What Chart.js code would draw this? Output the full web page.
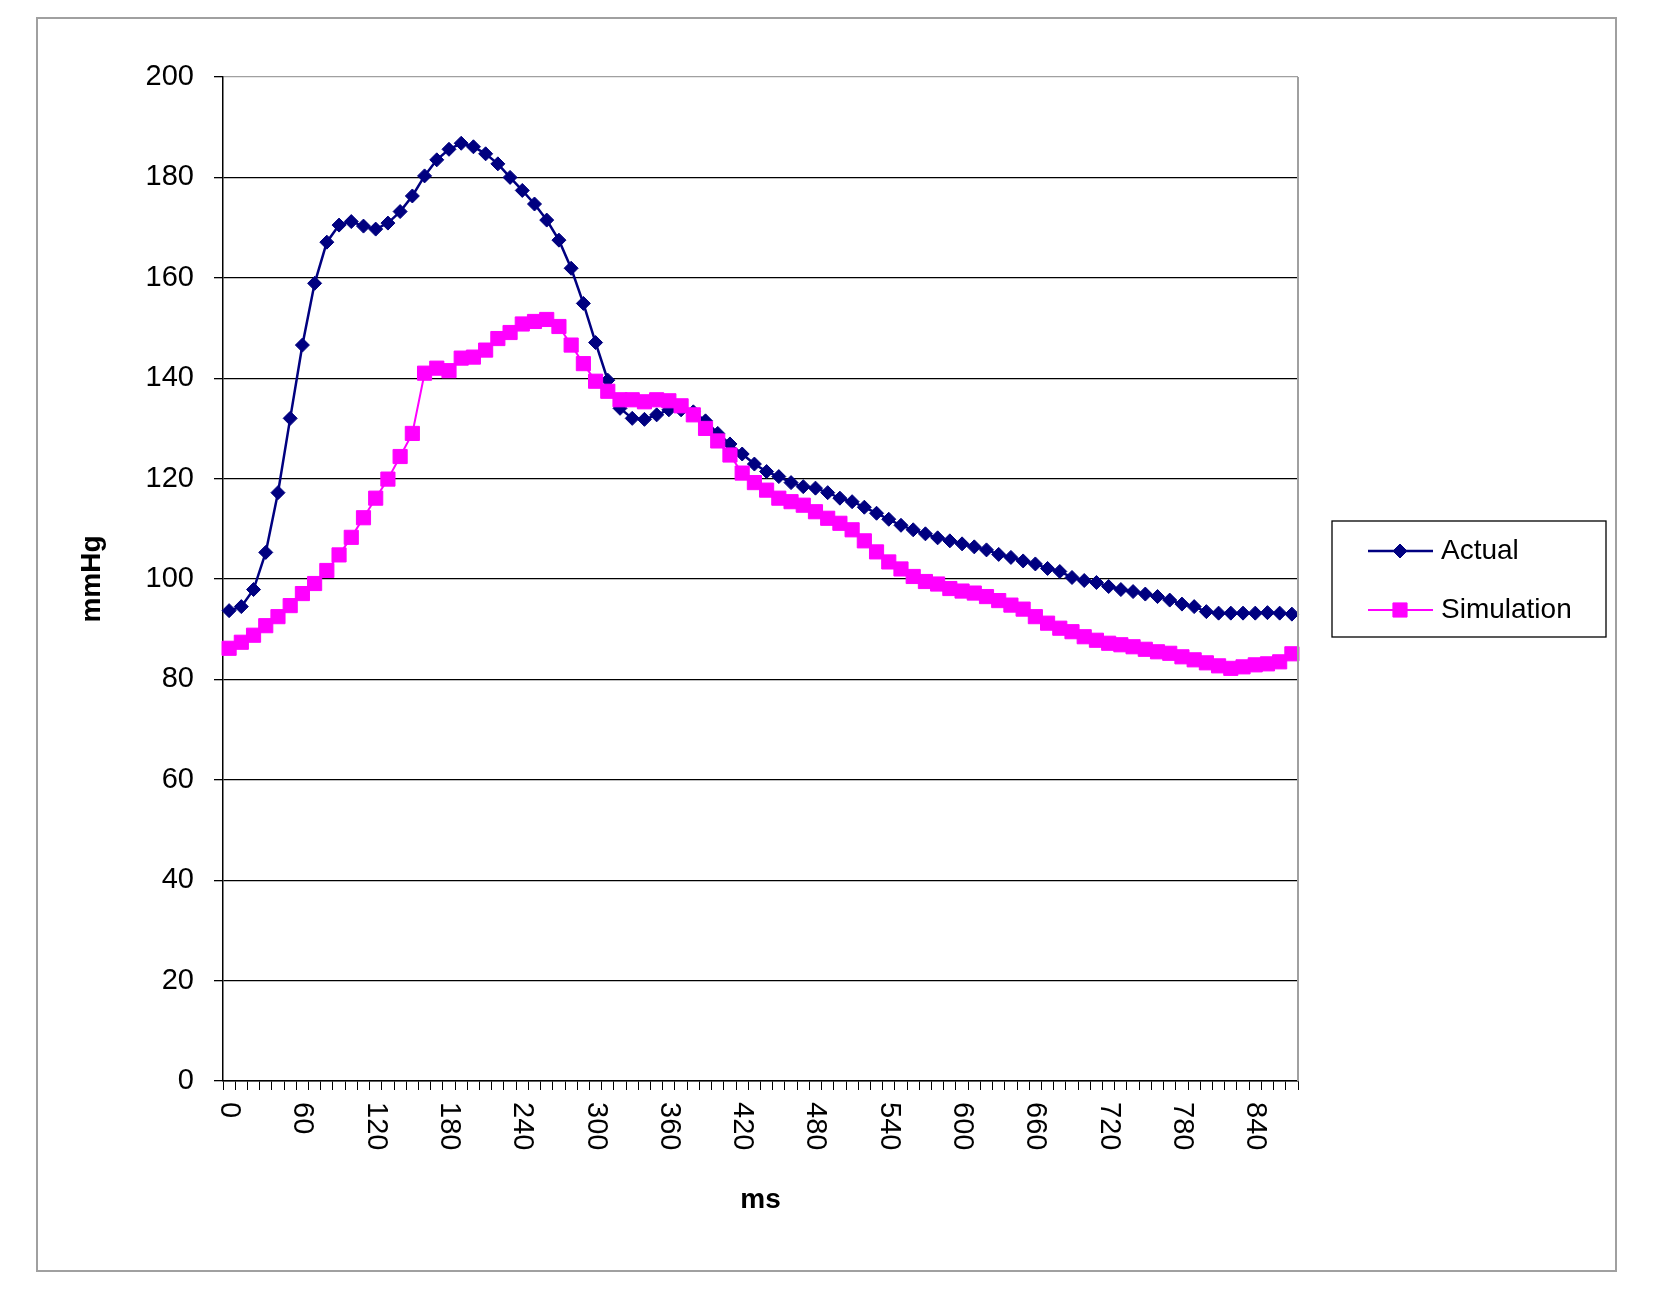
<!DOCTYPE html>
<html>
<head>
<meta charset="utf-8">
<title>Actual vs Simulation</title>
<script src="https://cdn.jsdelivr.net/npm/chart.js@4.4.1/dist/chart.umd.min.js"></script>
<style>
    body { margin: 0; background: #fff; }
    #wrap { width: 1654px; height: 1290px; position: relative; }
</style>
</head>
<body>
<div id="wrap"><canvas id="lineChart"></canvas></div>
<script>
// time in ms, one point every 10 ms
var msLabels = [0, 10, 20, 30, 40, 50, 60, 70, 80, 90, 100, 110, 120, 130, 140, 150, 160, 170, 180, 190,
    200, 210, 220, 230, 240, 250, 260, 270, 280, 290, 300, 310, 320, 330, 340, 350, 360, 370, 380, 390,
    400, 410, 420, 430, 440, 450, 460, 470, 480, 490, 500, 510, 520, 530, 540, 550, 560, 570, 580, 590,
    600, 610, 620, 630, 640, 650, 660, 670, 680, 690, 700, 710, 720, 730, 740, 750, 760, 770, 780, 790,
    800, 810, 820, 830, 840, 850, 860, 870];

var actualData = [93.7, 94.5, 97.9, 105.3, 117.2, 132.0, 146.6, 158.9, 167.1, 170.5,
    171.2, 170.3, 169.7, 170.9, 173.2, 176.3, 180.3, 183.5, 185.6, 186.8,
    186.1, 184.7, 182.7, 180.0, 177.4, 174.7, 171.5, 167.5, 161.9, 154.9,
    147.1, 139.6, 134.0, 132.0, 131.8, 132.7, 133.7, 133.7, 133.3, 131.5,
    129.0, 126.9, 124.9, 122.9, 121.4, 120.4, 119.2, 118.4, 118.1, 117.2,
    116.1, 115.4, 114.3, 113.1, 111.9, 110.7, 109.8, 109.0, 108.2, 107.6,
    107.0, 106.4, 105.8, 104.9, 104.3, 103.6, 103.0, 102.1, 101.5, 100.3,
    99.7, 99.3, 98.5, 97.9, 97.5, 97.0, 96.5, 95.8, 95.0, 94.5,
    93.5, 93.2, 93.2, 93.2, 93.2, 93.3, 93.2, 93.0];

var simulationData = [86.2, 87.4, 88.8, 90.7, 92.5, 94.7, 97.1, 99.1, 101.7, 104.8,
    108.3, 112.2, 116.1, 119.9, 124.4, 129.0, 141.0, 142.0, 141.5, 144.0,
    144.2, 145.6, 147.9, 149.1, 150.8, 151.3, 151.7, 150.3, 146.6, 142.9,
    139.4, 137.4, 135.7, 135.7, 135.3, 135.7, 135.5, 134.5, 132.7, 130.0,
    127.5, 124.7, 121.1, 119.2, 117.7, 116.1, 115.4, 114.7, 113.4, 112.1,
    111.1, 109.8, 107.6, 105.4, 103.4, 102.0, 100.5, 99.5, 99.0, 98.1,
    97.6, 97.2, 96.5, 95.7, 94.8, 94.0, 92.5, 91.2, 90.2, 89.5,
    88.5, 87.8, 87.2, 86.9, 86.5, 86.0, 85.5, 85.2, 84.5, 83.9,
    83.3, 82.7, 82.2, 82.5, 82.9, 83.1, 83.5, 85.1];

var labelEvery = 6;   // a label every 60 ms
var fontName = '"Liberation Sans", Arial, sans-serif';

// frame round the whole chart, grey plot border, rotated x labels and the legend box
var excelLook = {
    id: 'excelLook',
    beforeDraw: function (chart) {
        var ctx = chart.ctx;
        ctx.save();
        ctx.fillStyle = '#fff';
        ctx.fillRect(0, 0, chart.width, chart.height);
        ctx.restore();
    },
    afterDraw: function (chart) {
        var ctx = chart.ctx;
        var area = chart.chartArea;
        var xScale = chart.scales.x;
        ctx.save();

        // outer frame
        ctx.strokeStyle = '#a0a0a0';
        ctx.lineWidth = 2;
        ctx.strokeRect(37, 18, 1579, 1253);

        // right edge of plot area
        ctx.beginPath();
        ctx.moveTo(area.right, area.top);
        ctx.lineTo(area.right, area.bottom);
        ctx.stroke();

        // x tick labels, turned clockwise
        ctx.fillStyle = '#000';
        ctx.font = '29px ' + fontName;
        ctx.textAlign = 'left';
        ctx.textBaseline = 'middle';
        for (var i = 0; i < msLabels.length; i += labelEvery) {
            var x = xScale.getPixelForTick(i);
            ctx.save();
            ctx.translate(x, area.bottom + 21);
            ctx.rotate(Math.PI / 2);
            ctx.fillText(String(msLabels[i]), 0, 0);
            ctx.restore();
        }

        // legend
        ctx.strokeStyle = '#000';
        ctx.lineWidth = 1.3;
        ctx.strokeRect(1332, 521, 274, 116);
        var rows = [551, 610];
        chart.data.datasets.forEach(function (ds, k) {
            var y = rows[k];
            ctx.strokeStyle = ds.borderColor;
            ctx.lineWidth = ds.borderWidth;
            ctx.beginPath();
            ctx.moveTo(1368, y);
            ctx.lineTo(1433, y);
            ctx.stroke();
            ctx.fillStyle = ds.backgroundColor;
            ctx.strokeStyle = ds.borderColor;
            ctx.lineWidth = 1;
            Chart.helpers.drawPoint(ctx, { pointStyle: ds.pointStyle, radius: ds.pointRadius, rotation: 0, borderWidth: 1 }, 1400, y);
            ctx.fillStyle = '#000';
            ctx.font = '28px ' + fontName;
            ctx.textAlign = 'left';
            ctx.textBaseline = 'middle';
            ctx.fillText(ds.label, 1441, y);
        });
        ctx.restore();
    }
};

var lineData = {
    labels: msLabels,
    datasets: [
        {
            label: "Actual",
            data: actualData,
            borderColor: "#000080",
            backgroundColor: "#000080",
            borderWidth: 2.5,
            pointStyle: 'rectRot',
            pointRadius: 7,
            pointBorderWidth: 1,
            tension: 0,
            order: 2
        },
        {
            label: "Simulation",
            data: simulationData,
            borderColor: "#ff00ff",
            backgroundColor: "#ff00ff",
            borderWidth: 2,
            pointStyle: 'rect',
            pointRadius: 10,
            pointBorderWidth: 1,
            tension: 0,
            order: 1
        }
    ]
};

var lineOptions = {
    responsive: true,
    maintainAspectRatio: false,
    animation: false,
    layout: { padding: { top: 77, right: 356, bottom: 0, left: 0 } },
    plugins: {
        legend: { display: false },
        tooltip: { enabled: false }
    },
    scales: {
        x: {
            type: 'category',
            offset: true,
            grid: {
                offset: true,
                drawOnChartArea: false,
                drawTicks: true,
                tickLength: 9,
                color: '#000',
                lineWidth: 1
            },
            border: { display: true, color: '#000', width: 1.5 },
            ticks: { display: false, autoSkip: false },
            title: {
                display: true,
                text: 'ms',
                color: '#000',
                font: { family: fontName, size: 28, weight: 'bold' },
                padding: { top: 0, bottom: 73 }
            },
            afterFit: function (scale) { scale.height = 209; }
        },
        y: {
            min: 0,
            max: 200,
            ticks: {
                stepSize: 20,
                padding: 20,
                color: '#000',
                font: { family: fontName, size: 29 }
            },
            grid: {
                tickLength: 9,
                lineWidth: 1.3,
                color: function (c) { return c.tick && c.tick.value === 200 ? '#a0a0a0' : '#000'; },
                tickColor: '#000'
            },
            border: { display: true, color: '#000', width: 1.5 },
            title: {
                display: true,
                text: 'mmHg',
                color: '#000',
                font: { family: fontName, size: 28, weight: 'bold' },
                padding: { top: 75, bottom: 0 }
            },
            afterFit: function (scale) { scale.width = 223; }
        }
    }
};

var ctx = document.getElementById("lineChart").getContext("2d");
new Chart(ctx, { type: 'line', data: lineData, options: lineOptions, plugins: [excelLook] });
</script>
</body>
</html>
